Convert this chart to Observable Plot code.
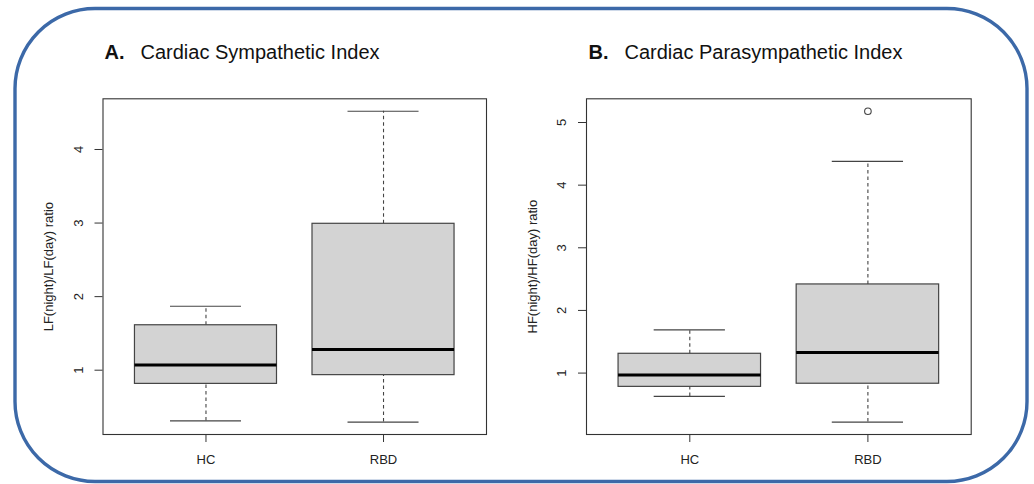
<!DOCTYPE html>
<html>
<head>
<meta charset="utf-8">
<script src="https://cdn.jsdelivr.net/npm/d3@7"></script>
<script src="https://cdn.jsdelivr.net/npm/@observablehq/plot@0.6"></script>
<style>
  html, body { margin: 0; padding: 0; background: #ffffff; }
  #wrap { position: relative; width: 1034px; height: 484px; overflow: hidden; background: #ffffff; }
  #wrap > svg { position: absolute; top: 0; }
</style>
</head>
<body>
<div id="wrap"></div>
<script>
// ---------- data ----------
const groups = ["HC", "RBD"];

// Panel A: LF(night)/LF(day) ratio
const lfLowerWhisker = [0.31, 0.295];
const lfQ1 = [0.814, 0.933];
const lfMedian = [1.072, 1.281];
const lfQ3 = [1.611, 2.99];
const lfUpperWhisker = [1.869, 4.52];
const lfOutlierGroup = [];
const lfOutlierValue = [];
const lfTicks = [1, 2, 3, 4];

// Panel B: HF(night)/HF(day) ratio
const hfLowerWhisker = [0.628, 0.218];
const hfQ1 = [0.78, 0.83];
const hfMedian = [0.968, 1.33];
const hfQ3 = [1.308, 2.415];
const hfUpperWhisker = [1.69, 4.38];
const hfOutlierGroup = ["RBD"];
const hfOutlierValue = [5.18];
const hfTicks = [1, 2, 3, 4, 5];

const titleLetters = ["A.", "B."];
const titles = ["Cardiac Sympathetic Index", "Cardiac Parasympathetic Index"];
const yLabels = ["LF(night)/LF(day) ratio", "HF(night)/HF(day) ratio"];

// ---------- drawing ----------
const FONT = "'Liberation Sans', Arial, Helvetica, sans-serif";
const LINE = "#444";

function panel(opts) {
  const idx = groups.map((g, i) => i);
  const all = [...opts.lo, ...opts.hi, ...opts.outVal];
  const [mn, mx] = d3.extent(all);
  const pad = (mx - mn) * 0.04;           // R's default 4% axis extension
  const yDomain = [mn - pad, mx + pad];
  const xDomain = [0.5 - 0.08, groups.length + 0.5 + 0.08];
  const outliers = opts.outGrp.map((g, k) => ({x: groups.indexOf(g) + 1, y: opts.outVal[k]}));

  return Plot.plot({
    width: 517,
    height: 484,
    marginLeft: opts.ml,
    marginRight: opts.mr,
    marginTop: 98.3,
    marginBottom: 50,
    style: {fontFamily: FONT, fontSize: "13px", background: "transparent", overflow: "visible", color: "#222"},
    x: {domain: xDomain, label: null},
    y: {domain: yDomain, label: null},
    marks: [
      // whiskers (dashed)
      Plot.ruleX(idx, {x: i => i + 1, y1: i => opts.q3[i], y2: i => opts.hi[i], stroke: LINE, strokeWidth: 1.1, strokeDasharray: "3.5,3"}),
      Plot.ruleX(idx, {x: i => i + 1, y1: i => opts.lo[i], y2: i => opts.q1[i], stroke: LINE, strokeWidth: 1.1, strokeDasharray: "3.5,3"}),
      // caps
      Plot.ruleY(idx, {y: i => opts.hi[i], x1: i => i + 1 - 0.2, x2: i => i + 1 + 0.2, stroke: LINE, strokeWidth: 1.2}),
      Plot.ruleY(idx, {y: i => opts.lo[i], x1: i => i + 1 - 0.2, x2: i => i + 1 + 0.2, stroke: LINE, strokeWidth: 1.2}),
      // boxes
      Plot.rect(idx, {x1: i => i + 1 - 0.4, x2: i => i + 1 + 0.4, y1: i => opts.q1[i], y2: i => opts.q3[i], fill: "#d3d3d3", stroke: LINE, strokeWidth: 1.2}),
      // medians
      Plot.ruleY(idx, {y: i => opts.med[i], x1: i => i + 1 - 0.4, x2: i => i + 1 + 0.4, stroke: "#000", strokeWidth: 3}),
      // outliers
      Plot.dot(outliers, {x: "x", y: "y", r: 3.3, stroke: LINE, fill: "none", strokeWidth: 1.1}),
      // frame
      Plot.frame({stroke: "#333", strokeWidth: 1.1}),
      // axes ticks
      Plot.axisY({ticks: opts.ticks, tickSize: 8, tickFormat: () => "", label: null, stroke: "#333"}),
      Plot.axisX({ticks: idx.map(i => i + 1), tickSize: 8, tickFormat: () => "", label: null, stroke: "#333"}),
      // y tick labels (rotated, as R draws them)
      Plot.text(opts.ticks, {y: d => d, text: d => String(d), frameAnchor: "left", dx: -24.2, rotate: -90, textAnchor: "middle", lineAnchor: "middle", fontSize: 13, fill: "#222"}),
      // x tick labels
      Plot.text(idx, {x: i => i + 1, text: i => groups[i], frameAnchor: "bottom", dy: 25, textAnchor: "middle", lineAnchor: "middle", fontSize: 13, fill: "#222"}),
      // y axis label
      Plot.text([opts.ylab], {text: d => d, frameAnchor: "left", dx: -54, rotate: -90, textAnchor: "middle", lineAnchor: "middle", fontSize: 13, fill: "#222"}),
      // title
      Plot.text([opts.letter], {text: d => d, frameAnchor: "top-left", dx: opts.letterDx, dy: -46, textAnchor: "start", lineAnchor: "middle", fontSize: 20, fontWeight: "bold", fill: "#111"}),
      Plot.text([opts.title], {text: d => d, frameAnchor: "top-left", dx: opts.titleDx, dy: -46, textAnchor: "start", lineAnchor: "middle", fontSize: 20, fill: "#111"})
    ]
  });
}

const wrap = document.getElementById("wrap");

const left = panel({
  ml: 102.5, mr: 31,
  lo: lfLowerWhisker, q1: lfQ1, med: lfMedian, q3: lfQ3, hi: lfUpperWhisker,
  outGrp: lfOutlierGroup, outVal: lfOutlierValue, ticks: lfTicks,
  ylab: yLabels[0], letter: titleLetters[0], title: titles[0],
  letterDx: 104 - 102.5, titleDx: 140 - 102.5
});
left.style.left = "0px";
wrap.appendChild(left);

const right = panel({
  ml: 69, mr: 63.3,
  lo: hfLowerWhisker, q1: hfQ1, med: hfMedian, q3: hfQ3, hi: hfUpperWhisker,
  outGrp: hfOutlierGroup, outVal: hfOutlierValue, ticks: hfTicks,
  ylab: yLabels[1], letter: titleLetters[1], title: titles[1],
  letterDx: 588 - 586, titleDx: 624 - 586
});
right.style.left = "517px";
wrap.appendChild(right);

// rounded blue border
const border = d3.create("svg")
  .attr("width", 1034).attr("height", 484)
  .style("position", "absolute").style("left", "0px").style("top", "0px")
  .style("pointer-events", "none");
border.append("rect")
  .attr("x", 15).attr("y", 8.5).attr("width", 1012).attr("height", 473)
  .attr("rx", 80).attr("ry", 80)
  .attr("fill", "none").attr("stroke", "#3C69A8").attr("stroke-width", 3.4);
wrap.appendChild(border.node());
</script>
</body>
</html>
